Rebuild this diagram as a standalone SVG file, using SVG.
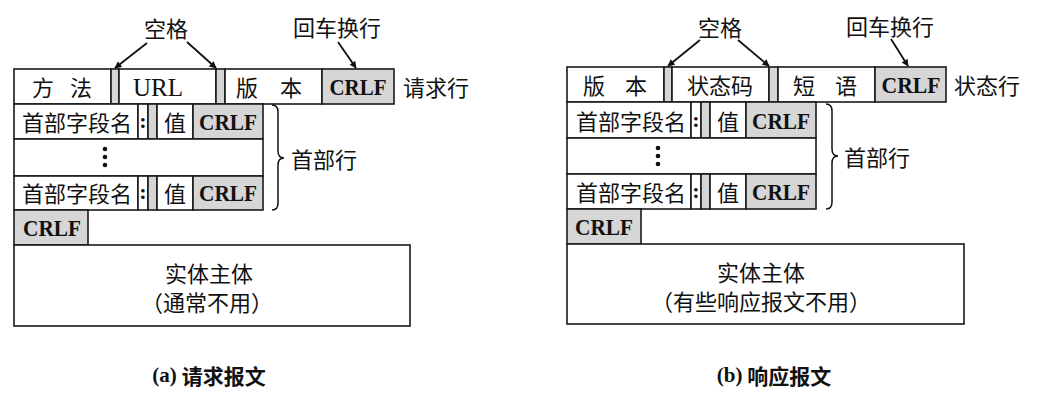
<svg xmlns="http://www.w3.org/2000/svg" width="1040" height="404" viewBox="0 0 1040 404">
<defs>
<marker id="ah" viewBox="0 0 10 10" refX="9" refY="5" markerWidth="8" markerHeight="7" markerUnits="userSpaceOnUse" orient="auto">
<path d="M0,0 L10,5 L0,10 z" fill="#111"/>
</marker>
</defs>
<style>
rect{stroke:#1a1a1a;stroke-width:1.6;fill:#fff}
rect.g{fill:#d6d6d6}
.cn{font-family:"Noto Sans CJK SC","Noto Sans",sans-serif;font-size:22px;fill:#111;dominant-baseline:central;text-anchor:middle}
.st{font-family:"Noto Sans CJK SC","Noto Sans",sans-serif;font-size:22px;fill:#111;dominant-baseline:central}
.crlf{font-family:"Liberation Serif","Noto Sans CJK SC",serif;font-weight:bold;font-size:24px;fill:#111;dominant-baseline:central;text-anchor:middle}
.url{font-family:"Liberation Serif",serif;font-size:25px;fill:#111;dominant-baseline:central;text-anchor:middle}
.col{font-family:"Liberation Serif",serif;font-weight:bold;font-size:22px;fill:#111;dominant-baseline:central;text-anchor:middle}
.cap{font-family:"Noto Sans CJK SC",sans-serif;font-weight:bold;font-size:21px;fill:#111;dominant-baseline:central;text-anchor:middle}
.ln{stroke:#111;stroke-width:1.8;fill:none}
.br{stroke:#111;stroke-width:1.5;fill:none}
</style>

<!-- ===== (a) request ===== -->
<g id="a-method"><rect x="14" y="69" width="97" height="35"/><text class="cn" x="62" y="86" textLength="60" lengthAdjust="spacing">方 法</text></g>
<g id="a-sp1"><rect class="g" x="111" y="69" width="8" height="35"/></g>
<g id="a-url"><rect x="119" y="69" width="97" height="35"/><text class="url" x="158" y="87">URL</text></g>
<g id="a-sp2"><rect class="g" x="216" y="69" width="9" height="35"/></g>
<g id="a-version"><rect x="225" y="69" width="97" height="35"/><text class="cn" x="269" y="86" textLength="66" lengthAdjust="spacing">版 本</text></g>
<g id="a-crlf0"><rect class="g" x="322" y="69" width="72" height="35"/><text class="crlf" x="358" y="87" textLength="57" lengthAdjust="spacingAndGlyphs">CRLF</text></g>
<g id="a-reqline-label"><text class="st" x="403" y="86">请求行</text></g>

<g id="a-h1">
<rect x="14" y="104" width="124" height="35"/><text class="cn" x="77" y="121">首部字段名</text>
<rect x="138" y="104" width="10" height="35"/><text class="col" x="143" y="120">:</text>
<rect class="g" x="148" y="104" width="9" height="35"/>
<rect x="157" y="104" width="36" height="35"/><text class="cn" x="175" y="121">值</text>
<rect class="g" x="193" y="104" width="70" height="35"/><text class="crlf" x="228" y="122" textLength="58" lengthAdjust="spacingAndGlyphs">CRLF</text>
</g>
<g id="a-dots">
<rect x="14" y="139" width="249" height="37"/>
<circle cx="105" cy="149" r="2.3" fill="#111"/><circle cx="105" cy="157" r="2.3" fill="#111"/><circle cx="105" cy="165" r="2.3" fill="#111"/>
</g>
<g id="a-h2">
<rect x="14" y="176" width="124" height="34"/><text class="cn" x="77" y="192">首部字段名</text>
<rect x="138" y="176" width="10" height="34"/><text class="col" x="143" y="191">:</text>
<rect class="g" x="148" y="176" width="9" height="34"/>
<rect x="157" y="176" width="36" height="34"/><text class="cn" x="175" y="192">值</text>
<rect class="g" x="193" y="176" width="70" height="34"/><text class="crlf" x="228" y="193" textLength="58" lengthAdjust="spacingAndGlyphs">CRLF</text>
</g>
<g id="a-crlf-end"><rect class="g" x="14" y="210" width="74" height="35"/><text class="crlf" x="52" y="228" textLength="58" lengthAdjust="spacingAndGlyphs">CRLF</text></g>
<g id="a-body"><rect x="14" y="245" width="396" height="81"/>
<text class="cn" x="209" y="272">实体主体</text>
<text class="cn" x="207" y="301" font-size="21">（通常不用）</text></g>
<g id="a-header-brace"><path class="br" d="M272,105 Q278,105 278,112 L278,151 Q278,158 284,158 Q278,158 278,165 L278,203 Q278,210 272,210"/>
<text class="st" x="291" y="158">首部行</text></g>
<g id="a-space-label"><text class="cn" x="166" y="27">空格</text></g>
<g id="a-crlf-label"><text class="cn" x="337" y="26">回车换行</text></g>
<g id="a-caption"><text class="cap" x="209" y="375"><tspan font-family="Liberation Serif, serif">(a)</tspan> 请求报文</text></g>

<!-- ===== (b) response ===== -->
<g id="b-version"><rect x="567" y="67" width="97" height="35"/><text class="cn" x="615" y="84" textLength="64" lengthAdjust="spacing">版 本</text></g>
<g id="b-sp1"><rect class="g" x="664" y="67" width="8" height="35"/></g>
<g id="b-status"><rect x="672" y="67" width="97" height="35"/><text class="cn" x="720" y="84">状态码</text></g>
<g id="b-sp2"><rect class="g" x="769" y="67" width="9" height="35"/></g>
<g id="b-phrase"><rect x="778" y="67" width="97" height="35"/><text class="cn" x="825" y="84" textLength="64" lengthAdjust="spacing">短 语</text></g>
<g id="b-crlf0"><rect class="g" x="875" y="67" width="71" height="35"/><text class="crlf" x="911" y="85" textLength="59" lengthAdjust="spacingAndGlyphs">CRLF</text></g>
<g id="b-statline-label"><text class="st" x="954" y="84">状态行</text></g>

<g id="b-h1">
<rect x="567" y="102" width="124" height="36"/><text class="cn" x="631" y="120">首部字段名</text>
<rect x="691" y="102" width="10" height="36"/><text class="col" x="696" y="119">:</text>
<rect class="g" x="701" y="102" width="9" height="36"/>
<rect x="710" y="102" width="36" height="36"/><text class="cn" x="728" y="120">值</text>
<rect class="g" x="746" y="102" width="70" height="36"/><text class="crlf" x="781" y="121" textLength="58" lengthAdjust="spacingAndGlyphs">CRLF</text>
</g>
<g id="b-dots">
<rect x="567" y="138" width="249" height="36"/>
<circle cx="658" cy="148" r="2.3" fill="#111"/><circle cx="658" cy="156" r="2.3" fill="#111"/><circle cx="658" cy="164" r="2.3" fill="#111"/>
</g>
<g id="b-h2">
<rect x="567" y="174" width="124" height="35"/><text class="cn" x="631" y="191">首部字段名</text>
<rect x="691" y="174" width="10" height="35"/><text class="col" x="696" y="190">:</text>
<rect class="g" x="701" y="174" width="9" height="35"/>
<rect x="710" y="174" width="36" height="35"/><text class="cn" x="728" y="191">值</text>
<rect class="g" x="746" y="174" width="70" height="35"/><text class="crlf" x="781" y="192" textLength="58" lengthAdjust="spacingAndGlyphs">CRLF</text>
</g>
<g id="b-crlf-end"><rect class="g" x="567" y="209" width="74" height="35"/><text class="crlf" x="604" y="227" textLength="58" lengthAdjust="spacingAndGlyphs">CRLF</text></g>
<g id="b-body"><rect x="567" y="244" width="397" height="80"/>
<text class="cn" x="761" y="271">实体主体</text>
<text class="cn" x="761" y="300" font-size="21">（有些响应报文不用）</text></g>
<g id="b-header-brace"><path class="br" d="M826,104 Q832,104 832,111 L832,149 Q832,156 838,156 Q832,156 832,163 L832,202 Q832,209 826,209"/>
<text class="st" x="844" y="156">首部行</text></g>
<g id="b-space-label"><text class="cn" x="720" y="26">空格</text></g>
<g id="b-crlf-label"><text class="cn" x="890" y="25">回车换行</text></g>
<g id="b-caption"><text class="cap" x="774" y="375"><tspan font-family="Liberation Serif, serif">(b)</tspan> 响应报文</text></g>

<!-- connectors -->
<g id="connectors">
<line class="ln" x1="147" y1="43" x2="115" y2="68" marker-end="url(#ah)"/>
<line class="ln" x1="187" y1="42" x2="216" y2="68" marker-end="url(#ah)"/>
<line class="ln" x1="338" y1="42" x2="356" y2="68" marker-end="url(#ah)"/>
<line class="ln" x1="700" y1="40" x2="668" y2="66" marker-end="url(#ah)"/>
<line class="ln" x1="738" y1="40" x2="769" y2="66" marker-end="url(#ah)"/>
<line class="ln" x1="891" y1="39" x2="908" y2="66" marker-end="url(#ah)"/>
</g>
</svg>
